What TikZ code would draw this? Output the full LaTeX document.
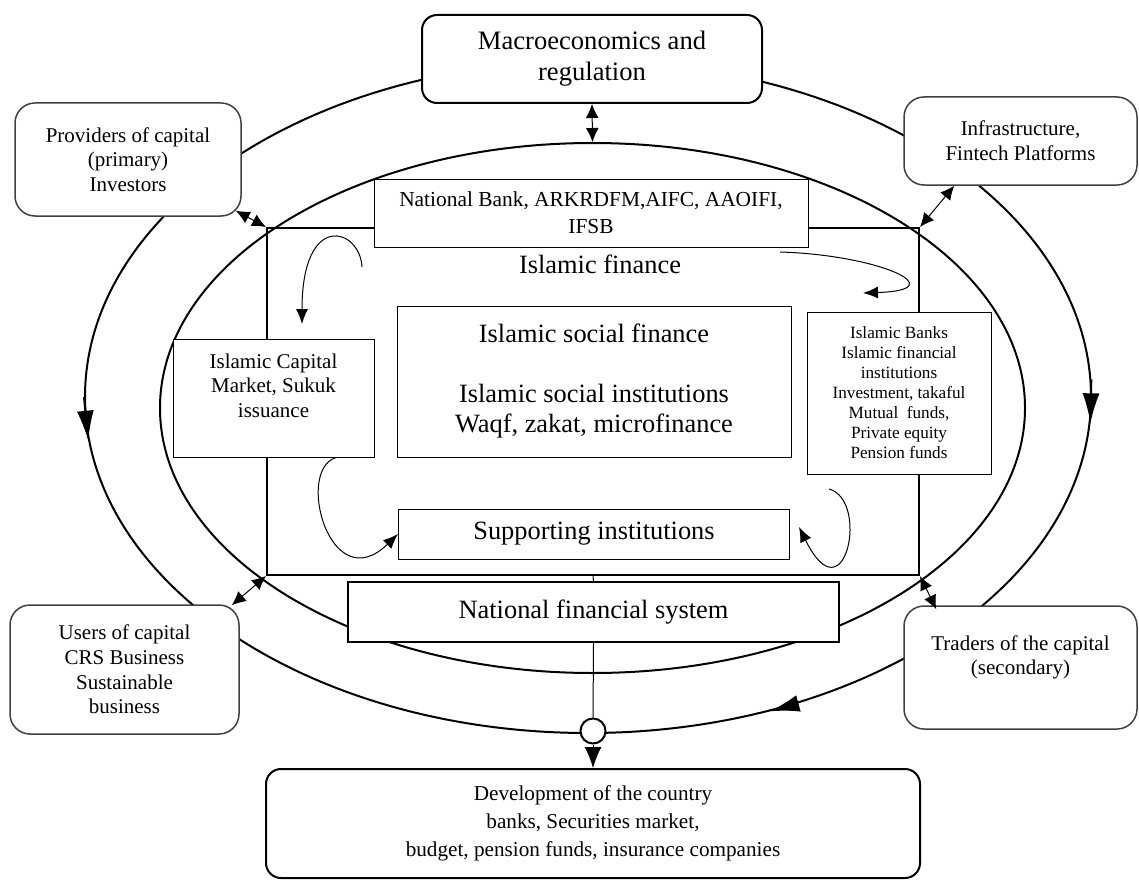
\documentclass[tikz,border=0pt]{standalone}
\usepackage{fontspec}
\setmainfont{Liberation Serif}
\usetikzlibrary{shapes.geometric,arrows.meta}
\tikzset{
    ring/.style={ellipse, draw, line width=1pt, inner sep=0pt},
    mainbox/.style={draw, line width=1pt, rounded corners=7.5pt, fill=white, align=center, inner sep=0pt},
    sidebox/.style={draw=black!75, line width=0.75pt, rounded corners=10pt, fill=white, align=center, inner sep=0pt, font=\fontsize{10.5}{12.3}\selectfont},
    innerbox/.style={draw, line width=0.5pt, fill=white, align=center, inner sep=0pt},
    bigtext/.style={font=\fontsize{13.2}{15}\selectfont},
    link/.style={{Latex[length=7pt,width=6.5pt]}-{Latex[length=7pt,width=6.5pt]}, line width=0.5pt},
    flow/.style={-{Latex[length=7.5pt,width=6pt]}, line width=0.5pt},
    course/.style={-{Latex[length=15pt,width=8.5pt]}, line width=1pt}
}
\begin{document}
\begin{tikzpicture}[x=0.5pt,y=-0.5pt]
        \useasboundingbox (0,0) rectangle (1139,883);
        \node[ring, minimum width=503pt, minimum height=336pt] (outer) at (588,397) {};
        \node[ring, minimum width=432.5pt, minimum height=265pt] (inner) at (592.5,408) {};
        \node[draw, line width=1pt, minimum width=326pt, minimum height=173.5pt] (frame) at (593,401.5) {};
        \node[mainbox, minimum width=170pt, minimum height=44pt, font=\fontsize{13.3}{15.5}\selectfont] (macro) at (592,59) {Macroeconomics and\\regulation};
        \node[sidebox, minimum width=113pt, minimum height=56.5pt] (prov) at (128,159.5) {Providers of capital\\(primary)\\Investors};
        \node[sidebox, minimum width=116.5pt, minimum height=44pt] (infra) at (1020.5,141) {Infrastructure,\\Fintech Platforms};
        \node[sidebox, minimum width=114.5pt, minimum height=64.5pt] (users) at (124.5,669.5) {Users of capital\\CRS Business\\Sustainable\\business};
        \node[sidebox, minimum width=116.5pt, minimum height=61.5pt] (traders) at (1020.5,667.5) {Traders of the capital\\(secondary)\\~};
        \node[innerbox, minimum width=217pt, minimum height=34pt, font=\fontsize{10.7}{13.5}\selectfont] (nbank) at (591,213) {National Bank, ARKRDFM,AIFC, AAOIFI,\\IFSB};
        \node[bigtext] (ifin) at (600,264) {Islamic finance};
        \node[innerbox, minimum width=100.5pt, minimum height=59pt, font=\fontsize{10.5}{12.3}\selectfont] (icm) at (273.5,398) {Islamic Capital\\Market, Sukuk\\issuance\\~};
        \node[innerbox, bigtext, minimum width=197pt, minimum height=75.5pt] (isf) at (594,381.5) {Islamic social finance\\[15pt]Islamic social institutions\\Waqf, zakat, microfinance};
        \node[innerbox, minimum width=92pt, minimum height=81pt, font=\fontsize{8.6}{10}\selectfont] (ibanks) at (899,393) {Islamic Banks\\Islamic financial\\institutions\\Investment, takaful\\Mutual\ \ funds,\\Private equity\\Pension funds};
        \node[innerbox, bigtext, minimum width=195.5pt, minimum height=25pt] (support) at (594,534) {Supporting institutions};
        \node[innerbox, bigtext, line width=1pt, minimum width=245.5pt, minimum height=30pt] (nfs) at (593.5,612) {National financial system};
        \node[mainbox, minimum width=327pt, minimum height=54.5pt, font=\fontsize{10.6}{14}\selectfont] (devel) at (593,823.5) {Development of the country\\banks, Securities market,\\budget, pension funds, insurance companies};
        \node[circle, draw, line width=1pt, fill=white, minimum size=12.5pt, inner sep=0pt] (hub) at (593,731) {};
        \coordinate (f1s) at (362,267);
        \coordinate (f1e) at (302,324);
        \coordinate (f2s) at (780,252);
        \coordinate (f2e) at (863,293);
        \coordinate (f4s) at (829,489);
        \coordinate (f4e) at (799,527);
        \draw[course] (outer.2) -- (outer.-3);
        \draw[course] (outer.180) -- (outer.185);
        \draw[course] (outer.-57) -- (outer.-60.5);
        \draw[link] (macro.south) -- (inner.north);
        \draw[link] ([shift={(-6,-6)}]prov.south east) -- (frame.north west);
        \draw[link] ([shift={(51,0)}]infra.south west) -- (frame.north east);
        \draw[link] ([shift={(-8,1)}]users.north east) -- (frame.south west);
        \draw[link] ([shift={(33,4)}]traders.north west) -- (frame.south east);
        \draw[flow] (f1s) .. controls (360,228) and (302,210) .. (f1e);
        \draw[flow] (f2s) .. controls (880,255) and (955,290) .. (f2e);
        \draw[flow] ([xshift=31.25pt]icm.south) .. controls (295,470) and (330,600) .. (support.west);
        \draw[flow] (f4s) .. controls (870,500) and (845,620) .. (f4e);
        \draw[line width=0.5pt] (frame.south) -- (nfs.north);
        \draw[line width=0.5pt] (nfs.south) -- (hub.north);
        \draw[line width=0.5pt, -{Latex[length=10.5pt,width=8.5pt]}] (hub.south) -- (devel.north);
\end{tikzpicture}
\end{document}
